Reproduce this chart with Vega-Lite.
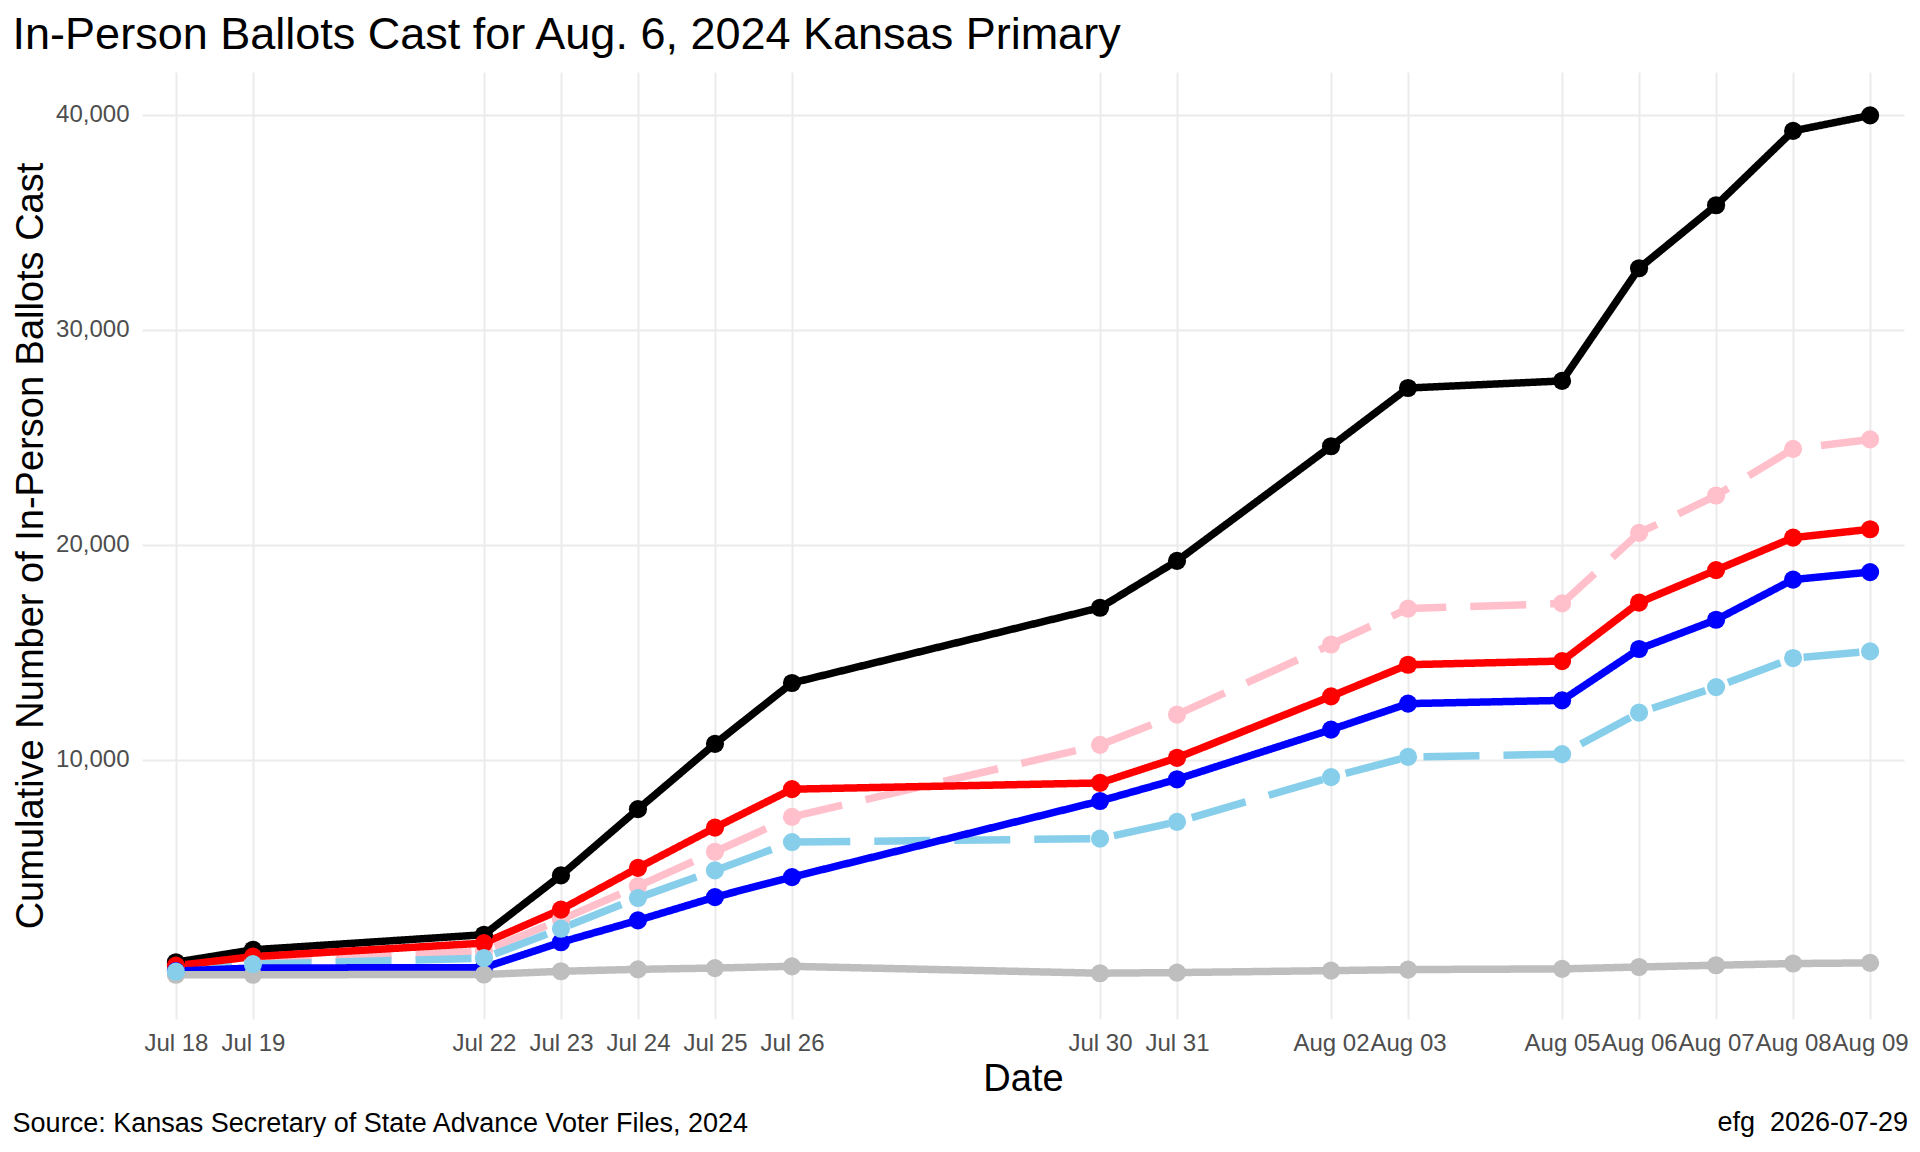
{
  "$schema": "https://vega.github.io/schema/vega-lite/v6.json",
  "padding": {"left": 12, "top": 13, "right": 0, "bottom": 0},
  "background": "white",
  "title": {
    "text": "efg\u00a0 2026-07-29",
    "orient": "bottom",
    "anchor": "end",
    "offset": -27,
    "fontSize": 27,
    "fontWeight": "normal",
    "font": "Liberation Sans",
    "color": "black"
  },
  "vconcat": [
    {
      "title": {
        "text": "Source: Kansas Secretary of State Advance Voter Files, 2024",
        "orient": "bottom",
        "anchor": "start",
        "offset": 13,
        "fontSize": 27,
        "fontWeight": "normal",
        "font": "Liberation Sans",
        "color": "black"
      },
      "vconcat": [
        {
          "title": {
            "text": "In-Person Ballots Cast for Aug. 6, 2024 Kansas Primary",
            "anchor": "start",
            "offset": 14,
            "fontSize": 45,
            "fontWeight": "normal",
            "font": "Liberation Sans",
            "color": "black"
          },
          "width": 1762,
          "height": 947,
          "data": {
            "values": [
              {"series": "Female", "date": "2024-07-18", "ballots": 440},
              {"series": "Female", "date": "2024-07-19", "ballots": 620},
              {"series": "Female", "date": "2024-07-22", "ballots": 1100},
              {"series": "Female", "date": "2024-07-23", "ballots": 2570},
              {"series": "Female", "date": "2024-07-24", "ballots": 4130},
              {"series": "Female", "date": "2024-07-25", "ballots": 5730},
              {"series": "Female", "date": "2024-07-26", "ballots": 7350},
              {"series": "Female", "date": "2024-07-30", "ballots": 10700},
              {"series": "Female", "date": "2024-07-31", "ballots": 12110},
              {"series": "Female", "date": "2024-08-02", "ballots": 15370},
              {"series": "Female", "date": "2024-08-03", "ballots": 17040},
              {"series": "Female", "date": "2024-08-05", "ballots": 17280},
              {"series": "Female", "date": "2024-08-06", "ballots": 20560},
              {"series": "Female", "date": "2024-08-07", "ballots": 22300},
              {"series": "Female", "date": "2024-08-08", "ballots": 24470},
              {"series": "Female", "date": "2024-08-09", "ballots": 24910},
              {"series": "Male", "date": "2024-07-18", "ballots": 150},
              {"series": "Male", "date": "2024-07-19", "ballots": 500},
              {"series": "Male", "date": "2024-07-22", "ballots": 780},
              {"series": "Male", "date": "2024-07-23", "ballots": 2150},
              {"series": "Male", "date": "2024-07-24", "ballots": 3580},
              {"series": "Male", "date": "2024-07-25", "ballots": 4860},
              {"series": "Male", "date": "2024-07-26", "ballots": 6180},
              {"series": "Male", "date": "2024-07-30", "ballots": 6340},
              {"series": "Male", "date": "2024-07-31", "ballots": 7120},
              {"series": "Male", "date": "2024-08-02", "ballots": 9200},
              {"series": "Male", "date": "2024-08-03", "ballots": 10140},
              {"series": "Male", "date": "2024-08-05", "ballots": 10270},
              {"series": "Male", "date": "2024-08-06", "ballots": 12200},
              {"series": "Male", "date": "2024-08-07", "ballots": 13390},
              {"series": "Male", "date": "2024-08-08", "ballots": 14740},
              {"series": "Male", "date": "2024-08-09", "ballots": 15050},
              {"series": "Total", "date": "2024-07-18", "ballots": 590},
              {"series": "Total", "date": "2024-07-19", "ballots": 1170},
              {"series": "Total", "date": "2024-07-22", "ballots": 1870},
              {"series": "Total", "date": "2024-07-23", "ballots": 4630},
              {"series": "Total", "date": "2024-07-24", "ballots": 7710},
              {"series": "Total", "date": "2024-07-25", "ballots": 10750},
              {"series": "Total", "date": "2024-07-26", "ballots": 13580},
              {"series": "Total", "date": "2024-07-30", "ballots": 17080},
              {"series": "Total", "date": "2024-07-31", "ballots": 19260},
              {"series": "Total", "date": "2024-08-02", "ballots": 24590},
              {"series": "Total", "date": "2024-08-03", "ballots": 27300},
              {"series": "Total", "date": "2024-08-05", "ballots": 27630},
              {"series": "Total", "date": "2024-08-06", "ballots": 32870},
              {"series": "Total", "date": "2024-08-07", "ballots": 35800},
              {"series": "Total", "date": "2024-08-08", "ballots": 39260},
              {"series": "Total", "date": "2024-08-09", "ballots": 39980},
              {"series": "Republican", "date": "2024-07-18", "ballots": 430},
              {"series": "Republican", "date": "2024-07-19", "ballots": 850},
              {"series": "Republican", "date": "2024-07-22", "ballots": 1480},
              {"series": "Republican", "date": "2024-07-23", "ballots": 3040},
              {"series": "Republican", "date": "2024-07-24", "ballots": 4980},
              {"series": "Republican", "date": "2024-07-25", "ballots": 6850},
              {"series": "Republican", "date": "2024-07-26", "ballots": 8640},
              {"series": "Republican", "date": "2024-07-30", "ballots": 8930},
              {"series": "Republican", "date": "2024-07-31", "ballots": 10100},
              {"series": "Republican", "date": "2024-08-02", "ballots": 12960},
              {"series": "Republican", "date": "2024-08-03", "ballots": 14430},
              {"series": "Republican", "date": "2024-08-05", "ballots": 14600},
              {"series": "Republican", "date": "2024-08-06", "ballots": 17320},
              {"series": "Republican", "date": "2024-08-07", "ballots": 18830},
              {"series": "Republican", "date": "2024-08-08", "ballots": 20340},
              {"series": "Republican", "date": "2024-08-09", "ballots": 20730},
              {"series": "Democratic", "date": "2024-07-18", "ballots": 180},
              {"series": "Democratic", "date": "2024-07-19", "ballots": 320},
              {"series": "Democratic", "date": "2024-07-22", "ballots": 340},
              {"series": "Democratic", "date": "2024-07-23", "ballots": 1520},
              {"series": "Democratic", "date": "2024-07-24", "ballots": 2540},
              {"series": "Democratic", "date": "2024-07-25", "ballots": 3620},
              {"series": "Democratic", "date": "2024-07-26", "ballots": 4550},
              {"series": "Democratic", "date": "2024-07-30", "ballots": 8090},
              {"series": "Democratic", "date": "2024-07-31", "ballots": 9100},
              {"series": "Democratic", "date": "2024-08-02", "ballots": 11410},
              {"series": "Democratic", "date": "2024-08-03", "ballots": 12620},
              {"series": "Democratic", "date": "2024-08-05", "ballots": 12770},
              {"series": "Democratic", "date": "2024-08-06", "ballots": 15160},
              {"series": "Democratic", "date": "2024-08-07", "ballots": 16520},
              {"series": "Democratic", "date": "2024-08-08", "ballots": 18390},
              {"series": "Democratic", "date": "2024-08-09", "ballots": 18740},
              {"series": "Other", "date": "2024-07-18", "ballots": 10},
              {"series": "Other", "date": "2024-07-19", "ballots": 10},
              {"series": "Other", "date": "2024-07-22", "ballots": 20},
              {"series": "Other", "date": "2024-07-23", "ballots": 170},
              {"series": "Other", "date": "2024-07-24", "ballots": 260},
              {"series": "Other", "date": "2024-07-25", "ballots": 320},
              {"series": "Other", "date": "2024-07-26", "ballots": 400},
              {"series": "Other", "date": "2024-07-30", "ballots": 80},
              {"series": "Other", "date": "2024-07-31", "ballots": 110},
              {"series": "Other", "date": "2024-08-02", "ballots": 200},
              {"series": "Other", "date": "2024-08-03", "ballots": 250},
              {"series": "Other", "date": "2024-08-05", "ballots": 280},
              {"series": "Other", "date": "2024-08-06", "ballots": 370},
              {"series": "Other", "date": "2024-08-07", "ballots": 450},
              {"series": "Other", "date": "2024-08-08", "ballots": 530},
              {"series": "Other", "date": "2024-08-09", "ballots": 560}
            ]
          },
          "encoding": {
            "x": {
              "field": "date",
              "type": "temporal",
              "scale": {
                "type": "utc",
                "domain": [
                  {"year": 2024, "month": 7, "date": 17, "hours": 13, "minutes": 26, "utc": true},
                  {"year": 2024, "month": 8, "date": 9, "hours": 10, "minutes": 34, "utc": true}
                ]
              },
              "axis": {
                "title": "Date",
                "format": "%b %d",
                "values": [
                  {"year": 2024, "month": 7, "date": 18, "utc": true},
                  {"year": 2024, "month": 7, "date": 19, "utc": true},
                  {"year": 2024, "month": 7, "date": 22, "utc": true},
                  {"year": 2024, "month": 7, "date": 23, "utc": true},
                  {"year": 2024, "month": 7, "date": 24, "utc": true},
                  {"year": 2024, "month": 7, "date": 25, "utc": true},
                  {"year": 2024, "month": 7, "date": 26, "utc": true},
                  {"year": 2024, "month": 7, "date": 30, "utc": true},
                  {"year": 2024, "month": 7, "date": 31, "utc": true},
                  {"year": 2024, "month": 8, "date": 2, "utc": true},
                  {"year": 2024, "month": 8, "date": 3, "utc": true},
                  {"year": 2024, "month": 8, "date": 5, "utc": true},
                  {"year": 2024, "month": 8, "date": 6, "utc": true},
                  {"year": 2024, "month": 8, "date": 7, "utc": true},
                  {"year": 2024, "month": 8, "date": 8, "utc": true},
                  {"year": 2024, "month": 8, "date": 9, "utc": true}
                ],
                "labelOverlap": false,
                "labelFlush": false,
                "labelPadding": 12,
                "titlePadding": 5
              }
            },
            "y": {
              "field": "ballots",
              "type": "quantitative",
              "scale": {"domain": [-2050, 42000], "nice": false, "zero": false},
              "axis": {
                "title": "Cumulative Number of In-Person Ballots Cast",
                "values": [10000, 20000, 30000, 40000],
                "format": ",.0f",
                "labelPadding": 13,
                "titlePadding": 5
              }
            },
            "color": {
              "field": "series",
              "type": "nominal",
              "scale": {
                "domain": ["Female", "Male", "Total", "Republican", "Democratic", "Other"],
                "range": ["#FFC0CB", "#87CEEB", "#000000", "#FF0000", "#0000FF", "#BEBEBE"]
              },
              "legend": null
            }
          },
          "layer": [
            {
              "mark": {"type": "line", "strokeWidth": 7.5, "strokeCap": "butt", "strokeJoin": "round"},
              "encoding": {
                "strokeDash": {
                  "field": "series",
                  "type": "nominal",
                  "scale": {
                    "domain": ["Female", "Male", "Total", "Republican", "Democratic", "Other"],
                    "range": [[56, 24], [56, 24], [1, 0], [1, 0], [1, 0], [1, 0]]
                  },
                  "legend": null
                }
              }
            },
            {
              "transform": [{"filter": "datum.series !== 'Male'"}],
              "mark": {"type": "circle", "size": 330, "opacity": 1}
            },
            {
              "transform": [{"filter": "datum.series === 'Male'"}],
              "mark": {"type": "circle", "size": 330, "opacity": 1}
            }
          ]
        }
      ]
    }
  ],
  "config": {
    "view": {"stroke": null},
    "font": "Liberation Sans",
    "axis": {
      "domain": false,
      "ticks": false,
      "grid": true,
      "gridColor": "#EBEBEB",
      "gridWidth": 2,
      "labelColor": "#4D4D4D",
      "labelFont": "Liberation Sans",
      "labelFontSize": 24,
      "titleFont": "Liberation Sans",
      "titleFontSize": 38,
      "titleFontWeight": "normal",
      "titleColor": "black"
    }
  }
}
